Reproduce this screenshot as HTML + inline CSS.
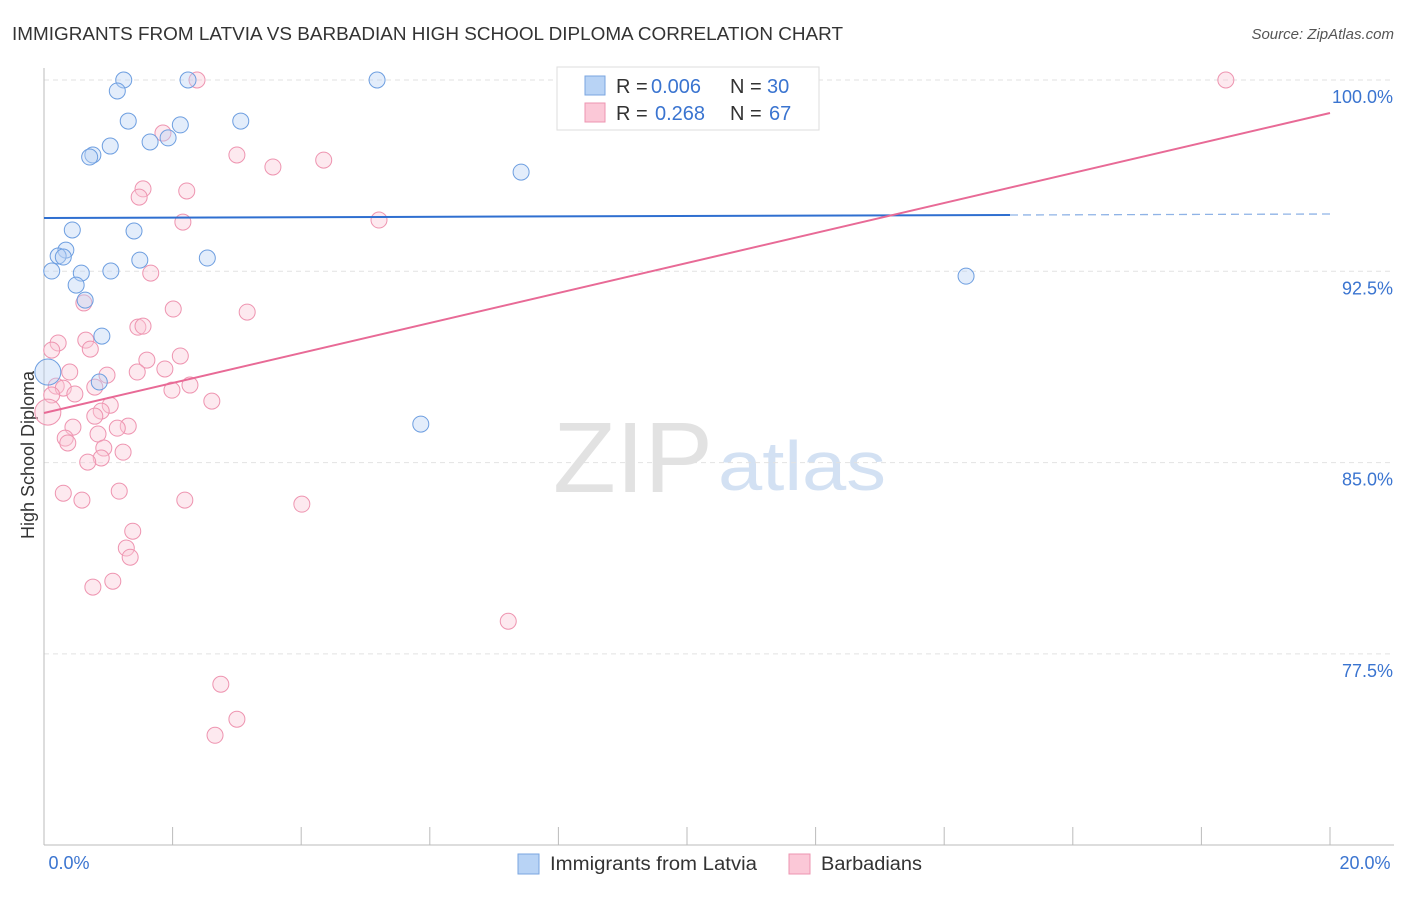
<!DOCTYPE html>
<html><head><meta charset="utf-8"><style>
body{margin:0;background:#fff;font-family:"Liberation Sans",sans-serif;}
svg text{font-family:"Liberation Sans",sans-serif;}
</style></head><body>
<svg id="c" width="1406" height="892">
<text x="12" y="40" font-size="18" fill="#333" textLength="831" lengthAdjust="spacingAndGlyphs">IMMIGRANTS FROM LATVIA VS BARBADIAN HIGH SCHOOL DIPLOMA CORRELATION CHART</text>
<text x="1394" y="39" font-size="15" fill="#555" font-style="italic" text-anchor="end">Source: ZipAtlas.com</text>
<text x="553" y="492" font-size="100" fill="#e2e2e2" font-family="Liberation Serif" textLength="160" lengthAdjust="spacingAndGlyphs">ZIP</text>
<text x="718" y="490" font-size="70" fill="#d3e1f3" textLength="168" lengthAdjust="spacingAndGlyphs">atlas</text>
<text transform="translate(34,455) rotate(-90)" font-size="18" fill="#333" text-anchor="middle">High School Diploma</text>
<g id="grid"></g><g id="pts"></g><g id="lines"></g>
<g>
<rect x="557" y="67" width="262" height="63" fill="#fff" stroke="#ddd"/>
<rect x="585" y="76" width="20" height="19" fill="#b8d3f5" stroke="#7aa6e0"/>
<rect x="585" y="103" width="20" height="19" fill="#fbc8d7" stroke="#ee94b0"/>
<text x="616" y="93" font-size="20" fill="#333">R = <tspan x="651" fill="#3a74d0">0.006</tspan><tspan x="730">N = </tspan><tspan x="767" fill="#3a74d0">30</tspan></text>
<text x="616" y="120" font-size="20" fill="#333">R = <tspan x="655" fill="#3a74d0">0.268</tspan><tspan x="730">N = </tspan><tspan x="769" fill="#3a74d0">67</tspan></text>
</g>
<g>
<rect x="518" y="854" width="21" height="20" fill="#b8d3f5" stroke="#7aa6e0"/>
<text x="550" y="870" font-size="19" fill="#333" textLength="207" lengthAdjust="spacingAndGlyphs">Immigrants from Latvia</text>
<rect x="789" y="854" width="21" height="20" fill="#fbc8d7" stroke="#ee94b0"/>
<text x="821" y="870" font-size="19" fill="#333" textLength="101" lengthAdjust="spacingAndGlyphs">Barbadians</text>
</g>
</svg>
<script>
const yTicks=[100,92.5,85,77.5];
const yTickLabels=["100.0%","92.5%","85.0%","77.5%"];
const blueX=[1.24,2.24,5.18,1.14,1.31,2.12,3.06,1.03,1.65,1.93,0.76,0.71,7.42,0.44,1.40,0.34,0.22,0.30,2.54,1.49,0.12,0.58,1.04,14.34,0.50,0.64,0.90,0.86,5.86,0.06];
const blueY=[100,100,100,99.57,98.39,98.24,98.39,97.41,97.57,97.73,97.06,96.98,96.39,94.12,94.08,93.33,93.1,93.06,93.02,92.94,92.51,92.43,92.51,92.31,91.96,91.37,89.96,88.16,86.51,88.55];
const pinkX=[2.38,18.38,1.85,3.00,4.35,3.56,1.54,2.22,1.48,5.21,2.16,1.66,0.62,2.01,3.16,1.46,1.54,0.22,0.65,0.12,0.72,2.12,1.60,1.88,1.45,0.40,0.98,0.19,0.30,0.48,0.79,2.27,1.99,0.12,0.06,2.61,1.03,0.89,0.79,1.31,1.14,0.45,0.84,0.33,0.37,0.93,1.23,0.89,0.68,0.30,1.17,0.59,2.19,4.01,1.38,1.28,1.34,1.07,0.76,7.22,2.75,3.00,2.66];
const pinkY=[100,100,97.92,97.06,96.86,96.59,95.73,95.65,95.41,94.51,94.43,92.43,91.26,91.02,90.9,90.31,90.35,89.69,89.8,89.41,89.45,89.18,89.02,88.67,88.55,88.55,88.43,88.0,87.92,87.69,87.96,88.04,87.84,87.65,86.98,87.41,87.25,87.02,86.82,86.43,86.35,86.39,86.12,85.96,85.77,85.57,85.41,85.18,85.02,83.8,83.88,83.53,83.53,83.37,82.31,81.65,81.29,80.35,80.12,78.78,76.31,74.94,74.31];
const X=v=>44+v/20*1286, Y=v=>80+(100-v)/7.5*191.3;
const NS="http://www.w3.org/2000/svg";
function mk(t,a,p){const e=document.createElementNS(NS,t);for(const k in a)e.setAttribute(k,a[k]);p.appendChild(e);return e;}
const svg=document.getElementById('c'),grid=document.getElementById('grid'),pts=document.getElementById('pts'),lines=document.getElementById('lines');
yTicks.forEach((t,i)=>{const l=mk('line',{x1:44,x2:1394,y1:Y(t),y2:Y(t),stroke:'#e2e2e2','stroke-dasharray':'5,4'},grid);


const tx=mk('text',{x:1393,y:Y(t)+23,'font-size':18,fill:'#3a74d0','text-anchor':'end'},grid);tx.textContent=yTickLabels[i];

});
const ax=mk('line',{x1:44,x2:44,y1:68,y2:845,stroke:'#bbb'},grid);


const bx=mk('line',{x1:44,x2:1394,y1:845,y2:845,stroke:'#bbb'},grid);


for(let i=0;i<=10;i++){const t=mk('line',{x1:X(i*2),x2:X(i*2),y1:827,y2:845,stroke:'#bbb'},grid);

}
[["0.0%",69,'middle'],["20.0%",1365,'middle']].forEach(d=>{const t=mk('text',{x:d[1],y:869,'font-size':18,fill:'#3a74d0','text-anchor':d[2]},grid);t.textContent=d[0];

});
function dots(xs,ys,fill,stroke,name){xs.forEach((x,i)=>{const big=x<0.1;const c=mk('circle',{cx:X(x),cy:Y(ys[i]),r:big?13:8,fill:fill,'fill-opacity':0.4,stroke:stroke,'stroke-width':1},pts);

});}
dots(pinkX,pinkY,'#fbc8d7','#ee94b0','barbadian-point');
dots(blueX,blueY,'#b8d3f5','#6d9ee0','latvia-point');
const b1=mk('line',{x1:X(0),y1:218,x2:1010,y2:215,stroke:'#2f6fd0','stroke-width':2},lines);


const b2=mk('line',{x1:1010,y1:215,x2:1330,y2:214,stroke:'#8fb3e6','stroke-width':1.3,'stroke-dasharray':'8,5'},lines);


const p1=mk('line',{x1:44,y1:413,x2:1330,y2:113,stroke:'#e86a96','stroke-width':2},lines);


</script>
</body></html>
